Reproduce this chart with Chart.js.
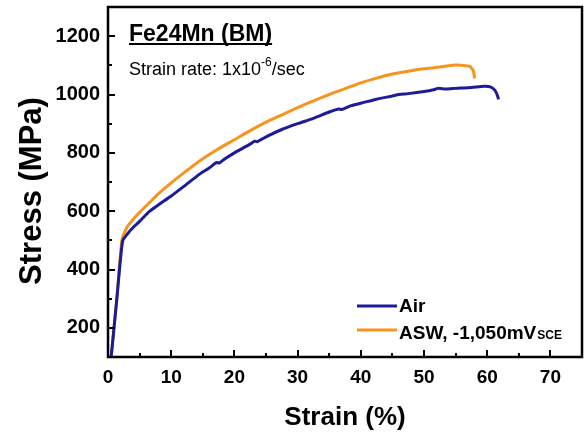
<!DOCTYPE html>
<html>
<head>
<meta charset="utf-8">
<script src="https://cdn.jsdelivr.net/npm/chart.js@4/dist/chart.umd.min.js"></script>
<style>
  html, body { margin: 0; padding: 0; background: #fff; }
  #wrap { width: 584px; height: 432px; }
</style>
</head>
<body>
<div id="wrap"><canvas id="stressChart" width="584" height="432"></canvas></div>
<script>
// ---- strain (%) / stress (MPa) readings ----
const airStrain = [0.5, 1.4, 2.3, 3.0, 4.0, 5.0, 6.6, 8.0, 10.0, 12.0, 14.5, 16.0, 17.2, 17.6, 18.4, 20.0, 22.5, 23.2, 23.6, 25.0, 27.5, 30.0, 32.5, 35.0, 36.5, 37.0, 38.5, 40.0, 42.5, 45.0, 46.0, 47.5, 50.0, 51.5, 52.2, 53.5, 55.0, 57.5, 59.5, 60.5, 61.2, 61.6, 61.8];
const airStress = [100, 300, 497, 520, 545, 565, 600, 622, 652, 685, 727, 748, 767, 765, 778, 800, 830, 840, 838, 855, 880, 900, 918, 940, 950, 949, 962, 970, 984, 995, 1000, 1003, 1010, 1016, 1021, 1019, 1021, 1024, 1028, 1026, 1015, 998, 983];

const aswStrain = [0.5, 1.4, 2.2, 3.0, 4.0, 5.0, 6.6, 8.0, 10.0, 12.5, 15.0, 17.5, 20.0, 22.5, 25.0, 27.5, 30.0, 32.5, 35.0, 37.5, 40.0, 42.5, 45.0, 47.5, 50.0, 52.5, 54.8, 56.0, 57.2, 57.8, 58.0];
const aswStress = [100, 300, 500, 545, 572, 596, 630, 660, 697, 740, 780, 814, 845, 876, 905, 930, 955, 978, 1000, 1020, 1040, 1056, 1070, 1080, 1088, 1094, 1101, 1100, 1097, 1082, 1055];

const xTicks = [0, 10, 20, 30, 40, 50, 60, 70];
const yTicks = [200, 400, 600, 800, 1000, 1200];

const AIR_COLOR = '#1c1c98';
const ASW_COLOR = '#f7941e';
const FONT = '"Liberation Sans", Arial, sans-serif';

const toPoints = (xs, ys) => xs.map((x, i) => ({ x: x, y: ys[i] }));

// frame, inward ticks, header text and legend
const decorPlugin = {
  id: 'decor',
  afterDraw(chart) {
    const ctx = chart.ctx;
    const xs = chart.scales.x, ys = chart.scales.y;
    const a = chart.chartArea;
    ctx.save();
    ctx.strokeStyle = '#000';
    ctx.lineWidth = 2;

    // inward ticks (major + minor)
    ctx.beginPath();
    for (let v = 0; v <= 75; v += 5) {
      const px = Math.round(xs.getPixelForValue(v));
      const len = (v % 10 === 0) ? 7 : 4;
      ctx.moveTo(px, a.bottom); ctx.lineTo(px, a.bottom - len);
    }
    for (let v = 200; v <= 1300; v += 100) {
      const py = Math.round(ys.getPixelForValue(v));
      const len = (v % 200 === 0) ? 7 : 4;
      ctx.moveTo(a.left, py); ctx.lineTo(a.left + len, py);
    }
    ctx.stroke();

    // box
    ctx.lineWidth = 2.5;
    ctx.strokeRect(a.left, a.top, a.right - a.left, a.bottom - a.top);

    // header
    ctx.fillStyle = '#000';
    ctx.textBaseline = 'alphabetic';
    ctx.textAlign = 'left';
    ctx.font = 'bold 23px ' + FONT;
    const title = 'Fe24Mn (BM)';
    ctx.fillText(title, 129, 41);
    const tw = ctx.measureText(title).width;
    ctx.fillRect(129, 43, tw, 2);

    ctx.font = '18px ' + FONT;
    let x = 129;
    const part1 = 'Strain rate: 1x10';
    ctx.fillText(part1, x, 75);
    x += ctx.measureText(part1).width;
    ctx.font = '12px ' + FONT;
    ctx.fillText('-6', x, 66);
    x += ctx.measureText('-6').width;
    ctx.font = '18px ' + FONT;
    ctx.fillText('/sec', x, 75);

    // legend
    ctx.lineWidth = 3;
    ctx.strokeStyle = AIR_COLOR;
    ctx.beginPath(); ctx.moveTo(357, 306); ctx.lineTo(397, 306); ctx.stroke();
    ctx.strokeStyle = ASW_COLOR;
    ctx.beginPath(); ctx.moveTo(357, 330); ctx.lineTo(397, 330); ctx.stroke();
    ctx.font = 'bold 19px ' + FONT;
    ctx.fillText('Air', 399, 312);
    const lbl = 'ASW, -1,050mV';
    ctx.fillText(lbl, 399, 339);
    const lw = ctx.measureText(lbl).width;
    ctx.font = 'bold 12px ' + FONT;
    ctx.fillText('SCE', 399 + lw + 1, 339);

    // axis titles
    ctx.font = 'bold 26px ' + FONT;
    ctx.textAlign = 'center';
    ctx.fillText('Strain (%)', 345, 425);
    ctx.save();
    ctx.translate(41, 191);
    ctx.rotate(-Math.PI / 2);
    ctx.font = 'bold 31px ' + FONT;
    ctx.fillText('Stress (MPa)', 0, 0);
    ctx.restore();

    ctx.restore();
  }
};

new Chart(document.getElementById('stressChart'), {
  type: 'line',
  data: {
    datasets: [
      {
        label: 'Air',
        data: toPoints(airStrain, airStress),
        borderColor: AIR_COLOR,
        borderWidth: 3,
        pointRadius: 0,
        tension: 0.2,
        fill: false
      },
      {
        label: 'ASW, -1,050mVSCE',
        data: toPoints(aswStrain, aswStress),
        borderColor: ASW_COLOR,
        borderWidth: 3,
        pointRadius: 0,
        tension: 0.2,
        fill: false
      }
    ]
  },
  options: {
    responsive: false,
    animation: false,
    layout: { padding: { top: 7, right: 2, left: 0, bottom: 0 } },
    plugins: { legend: { display: false }, tooltip: { enabled: false } },
    scales: {
      x: {
        type: 'linear',
        min: 0, max: 75,
        grid: { display: false, drawTicks: false },
        border: { display: false },
        afterBuildTicks: (s) => { s.ticks = xTicks.map(v => ({ value: v })); },
        afterFit: (s) => { s.height = 75; s.paddingLeft = 0; s.paddingRight = 0; },
        ticks: {
          padding: 9,
          color: '#000',
          font: { family: FONT, size: 19, weight: 'bold' },
          maxRotation: 0,
          callback: (v) => String(v)
        }
      },
      y: {
        type: 'linear',
        min: 100, max: 1300,
        grid: { display: false, drawTicks: false },
        border: { display: false },
        afterBuildTicks: (s) => { s.ticks = yTicks.map(v => ({ value: v })); },
        afterFit: (s) => { s.width = 108; s.paddingTop = 0; s.paddingBottom = 0; },
        ticks: {
          padding: 8,
          color: '#000',
          font: { family: FONT, size: 20, weight: 'bold' },
          callback: (v) => String(v)
        }
      }
    }
  },
  plugins: [decorPlugin]
});
</script>
</body>
</html>
